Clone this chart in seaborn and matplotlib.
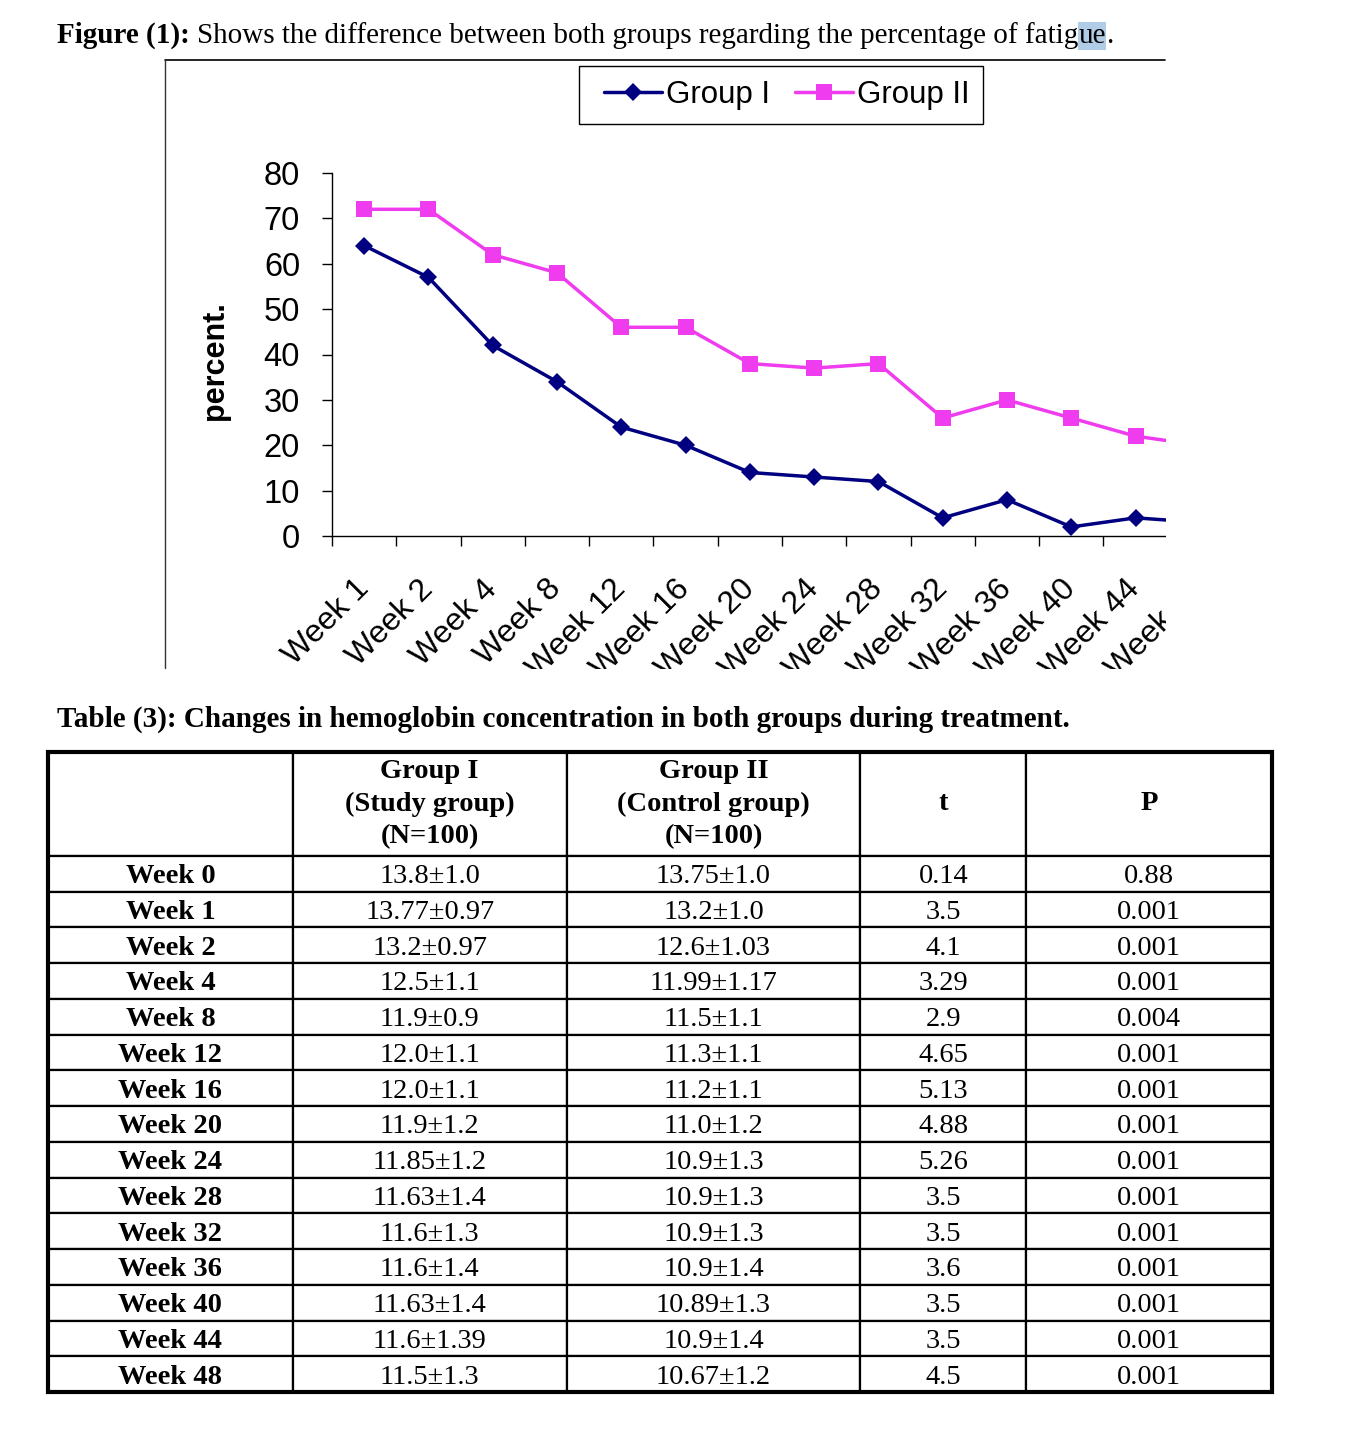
import numpy as np
import pandas as pd
import matplotlib
matplotlib.use('Agg')
import matplotlib.pyplot as plt
import seaborn as sns
from matplotlib.patches import Rectangle
from matplotlib.lines import Line2D
from matplotlib.text import Annotation
from matplotlib.legend_handler import HandlerLine2D

# ---------------------------------------------------------------
# data read from the figure / table
# ---------------------------------------------------------------
weeks = ['Week 1', 'Week 2', 'Week 4', 'Week 8', 'Week 12', 'Week 16', 'Week 20',
         'Week 24', 'Week 28', 'Week 32', 'Week 36', 'Week 40', 'Week 44', 'Week 48']
group_1 = [64, 57, 42, 34, 24, 20, 14, 13, 12, 4, 8, 2, 4, 3]
group_2 = [72, 72, 62, 58, 46, 46, 38, 37, 38, 26, 30, 26, 22, 20]

table_weeks = ['Week 0', 'Week 1', 'Week 2', 'Week 4', 'Week 8', 'Week 12', 'Week 16',
               'Week 20', 'Week 24', 'Week 28', 'Week 32', 'Week 36', 'Week 40',
               'Week 44', 'Week 48']
hb_group_1 = ['13.8±1.0', '13.77±0.97', '13.2±0.97', '12.5±1.1', '11.9±0.9', '12.0±1.1',
              '12.0±1.1', '11.9±1.2', '11.85±1.2', '11.63±1.4', '11.6±1.3', '11.6±1.4',
              '11.63±1.4', '11.6±1.39', '11.5±1.3']
hb_group_2 = ['13.75±1.0', '13.2±1.0', '12.6±1.03', '11.99±1.17', '11.5±1.1', '11.3±1.1',
              '11.2±1.1', '11.0±1.2', '10.9±1.3', '10.9±1.3', '10.9±1.3', '10.9±1.4',
              '10.89±1.3', '10.9±1.4', '10.67±1.2']
t_values = ['0.14', '3.5', '4.1', '3.29', '2.9', '4.65', '5.13', '4.88', '5.26', '3.5',
            '3.5', '3.6', '3.5', '3.5', '4.5']
p_values = ['0.88', '0.001', '0.001', '0.001', '0.004', '0.001', '0.001', '0.001', '0.001',
            '0.001', '0.001', '0.001', '0.001', '0.001', '0.001']
table_header = ['', 'Group I\n(Study group)\n(N=100)', 'Group II\n(Control group)\n(N=100)', 't', 'P']

W, H = 1346, 1442
SERIF = ['Liberation Serif', 'DejaVu Serif']

sns.set_theme(style='ticks')
plt.rcParams['font.family'] = ['Liberation Sans', 'DejaVu Sans']
plt.rcParams.update({'text.color': 'black', 'axes.labelcolor': 'black',
                     'xtick.color': 'black', 'ytick.color': 'black'})

fig = plt.figure(figsize=(W / 100, H / 100), dpi=100)
fig.patch.set_facecolor('white')


def fx(px):
    return px / W


def fy(py):
    return 1 - py / H


# ---------------------------------------------------------------
# figure caption (with the selection highlight on "ue")
# ---------------------------------------------------------------
cap = fig.text(fx(57), fy(49), 'Figure (1):', fontsize=21, fontweight='bold',
               family=SERIF, va='bottom', ha='left')
parts = [('Shows the difference between both groups regarding the percentage of fatig', None),
         ('ue', '#B1CCE6'), ('.', None)]
prev = cap
for i, (txt, hl) in enumerate(parts):
    kw = {}
    if hl:
        kw['bbox'] = dict(facecolor=hl, edgecolor='none', pad=0.5)
    a = Annotation(txt, xy=(1, 0), xycoords=prev,
                   xytext=(5.2 if i == 0 else 0, 0), textcoords='offset points',
                   fontsize=21, family=SERIF, va='bottom', ha='left', **kw)
    fig.add_artist(a)
    prev = a

# ---------------------------------------------------------------
# line chart
# ---------------------------------------------------------------
ax = fig.add_axes([fx(332), fy(536), (1232 - 332) / W, (536 - 173) / H])
df = pd.DataFrame({
    'week': weeks * 2,
    'percent': group_1 + group_2,
    'group': ['Group I'] * len(weeks) + ['Group II'] * len(weeks),
})
sns.lineplot(data=df, x='week', y='percent', hue='group', style='group',
             markers={'Group I': 'D', 'Group II': 's'}, dashes=False,
             palette={'Group I': '#000080', 'Group II': '#EE3CEE'},
             linewidth=2.5, markeredgewidth=0, sort=False, ax=ax)
for ln in ax.lines:
    ln.set_markersize(9 if ln.get_marker() == 'D' else 11.5)
    ln.set_clip_on(False)

handles, labels = ax.get_legend_handles_labels()
ax.get_legend().remove()
for h in handles:
    h.set_markersize(9 if h.get_marker() == 'D' else 11.5)
leg = ax.legend(handles, labels, ncol=2, loc='upper left',
                bbox_to_anchor=(fx(579), fy(66)), bbox_transform=fig.transFigure,
                frameon=True, fancybox=False, edgecolor='black', framealpha=1,
                fontsize=22.5, handlelength=2.2, handletextpad=0.13,
                columnspacing=0.45, borderpad=0.45, borderaxespad=0,
                handler_map={Line2D: HandlerLine2D(xpad=0.35)})
leg.get_frame().set_linewidth(1.0)

ax.set_xlim(-0.5, 13.5)
ax.set_ylim(0, 80)
ax.set_yticks(range(0, 81, 10))
ax.set_xticks(np.arange(-0.5, 14, 1))
ax.set_xticklabels([])
ax.set_xticks(range(len(weeks)), minor=True)
ax.set_xticklabels(weeks, minor=True, rotation=45, ha='right', va='center',
                   rotation_mode='anchor', fontsize=23)
ax.tick_params(axis='x', which='major', length=7, width=1, color='black', direction='out')
ax.tick_params(axis='x', which='minor', length=0, pad=35)
ax.tick_params(axis='y', length=7, width=1, color='black', direction='out',
               labelsize=23.5, pad=16)
sns.despine(ax=ax)
for s in ['left', 'bottom']:
    ax.spines[s].set_color('black')
    ax.spines[s].set_linewidth(1)
ax.set_xlabel('')
ax.set_ylabel('percent.', fontsize=22, fontweight='bold')
ax.yaxis.set_label_coords(-0.113, 0.482)

# chart area is cropped in the source page
fig.add_artist(Rectangle((fx(1166), fy(702)), (W - 1166) / W, (702 - 50) / H,
                         transform=fig.transFigure, facecolor='white',
                         edgecolor='none', zorder=10))
fig.add_artist(Rectangle((fx(150), fy(702)), (W - 150) / W, (702 - 669) / H,
                         transform=fig.transFigure, facecolor='white',
                         edgecolor='none', zorder=10))
fig.add_artist(Line2D([fx(165), fx(1165)], [fy(60), fy(60)], transform=fig.transFigure,
                      color='black', lw=1.2, zorder=11))
fig.add_artist(Line2D([fx(165), fx(165)], [fy(60), fy(668)], transform=fig.transFigure,
                      color='#333333', lw=1.0, zorder=11))

# ---------------------------------------------------------------
# table (3)
# ---------------------------------------------------------------
fig.text(fx(57), fy(719), 'Table (3): Changes in hemoglobin concentration in both groups during treatment.',
         fontsize=21, fontweight='bold', family=SERIF, va='center', ha='left', zorder=20)

ax_t = fig.add_axes([fx(48), fy(1392), (1272 - 48) / W, (1392 - 752) / H])
ax_t.axis('off')
cell_text = [list(r) for r in zip(table_weeks, hb_group_1, hb_group_2, t_values, p_values)]
tbl = ax_t.table(cellText=cell_text, colLabels=table_header, cellLoc='center',
                 bbox=[0, 0, 1, 1])
tbl.auto_set_font_size(False)
col_w = [245, 274, 294, 166, 246]
for (r, c), cell in tbl.get_celld().items():
    cell.set_width(col_w[c])
    cell.set_height(104 if r == 0 else 35.8)
    cell.set_edgecolor('black')
    cell.set_linewidth(1.6)
    t = cell.get_text()
    t.set_fontsize(20.5)
    t.set_fontfamily(SERIF)
    t.set_color('black')
    if r == 0:
        t.set_linespacing(1.38)
        t.set_fontweight('bold')
    else:
        t.set_va('center_baseline')
        if c == 0:
            t.set_fontweight('bold')
ax_t.add_patch(Rectangle((0, 0), 1, 1, transform=ax_t.transAxes, fill=False,
                         edgecolor='black', lw=3, clip_on=False, zorder=5))

fig.savefig('out.png', dpi=100, facecolor='white')
